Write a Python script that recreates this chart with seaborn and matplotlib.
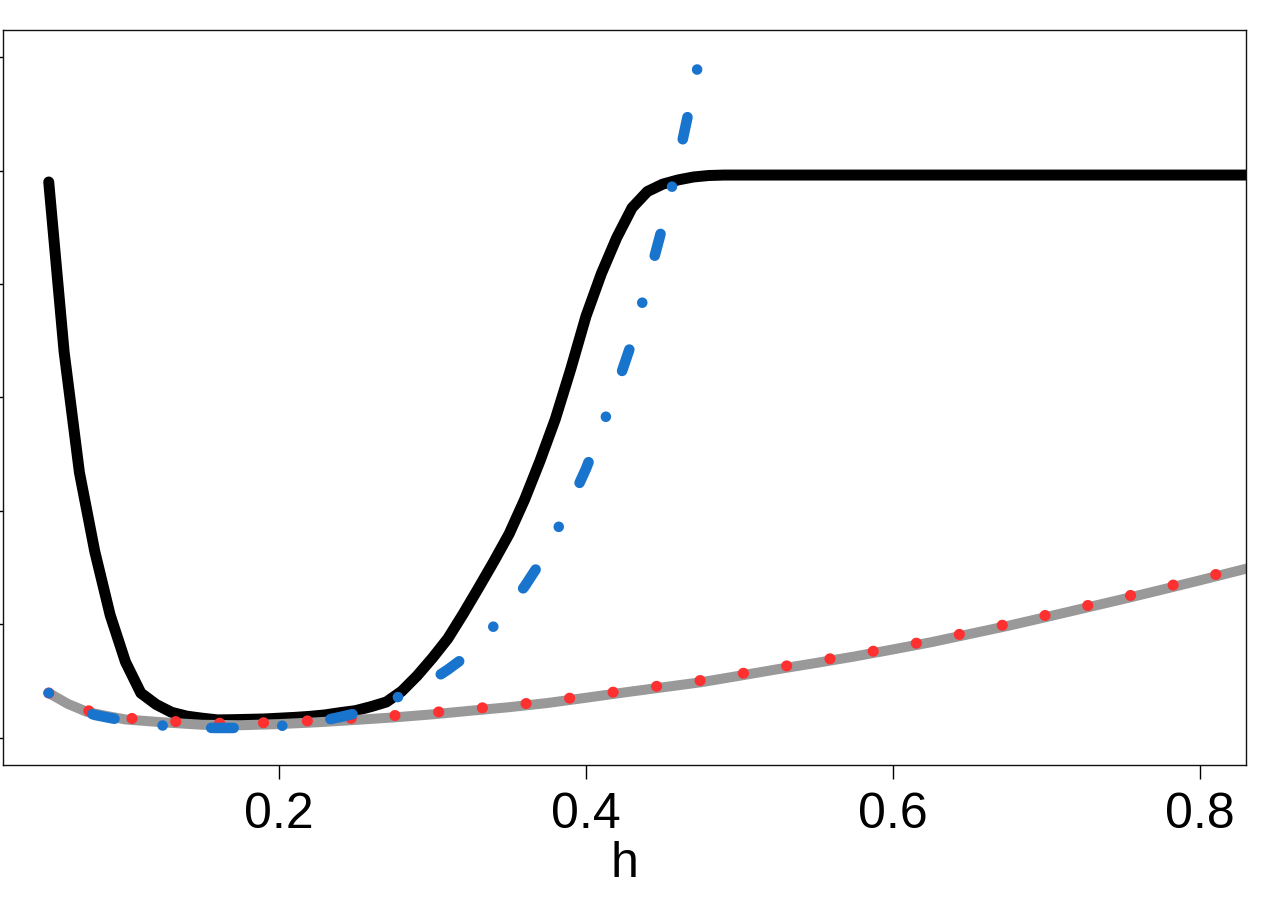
import matplotlib
matplotlib.use("Agg")
import matplotlib.pyplot as plt
import seaborn as sns
import pandas as pd

# black solid curve
h_black = [0.05, 0.06, 0.07, 0.08, 0.09, 0.10, 0.11, 0.12, 0.13, 0.14,
           0.15, 0.16, 0.17, 0.18, 0.19, 0.20, 0.21, 0.22, 0.23, 0.24,
           0.25, 0.26, 0.27, 0.28, 0.29, 0.30, 0.31, 0.32, 0.33, 0.34,
           0.35, 0.36, 0.37, 0.38, 0.39, 0.40, 0.41, 0.42, 0.43, 0.44,
           0.45, 0.46, 0.47, 0.48, 0.49, 0.50, 0.84]
v_black = [4.899, 3.404, 2.339, 1.643, 1.084, 0.670, 0.396, 0.295, 0.226, 0.192,
           0.174, 0.159, 0.161, 0.164, 0.167, 0.174, 0.181, 0.190, 0.203, 0.223,
           0.241, 0.276, 0.317, 0.412, 0.548, 0.705, 0.876, 1.093, 1.322, 1.556,
           1.800, 2.100, 2.440, 2.809, 3.247, 3.716, 4.091, 4.408, 4.671, 4.815,
           4.880, 4.917, 4.943, 4.956, 4.960, 4.960, 4.960]

# blue dot-dash curve
h_blue = [0.05, 0.06, 0.07, 0.08, 0.09, 0.10, 0.11, 0.12, 0.13, 0.14,
          0.15, 0.16, 0.17, 0.18, 0.19, 0.20, 0.21, 0.22, 0.23, 0.24,
          0.25, 0.26, 0.27, 0.28, 0.29, 0.30, 0.31, 0.32, 0.33, 0.34,
          0.35, 0.36, 0.37, 0.38, 0.39, 0.40, 0.41, 0.42, 0.43, 0.44,
          0.45, 0.46, 0.47, 0.48]
v_blue = [0.396, 0.320, 0.247, 0.203, 0.176, 0.152, 0.133, 0.115, 0.102, 0.096,
          0.090, 0.088, 0.088, 0.092, 0.098, 0.104, 0.120, 0.137, 0.156, 0.185,
          0.216, 0.265, 0.318, 0.374, 0.443, 0.513, 0.602, 0.702, 0.841, 0.986,
          1.157, 1.335, 1.542, 1.798, 2.075, 2.372, 2.720, 3.094, 3.493, 4.007,
          4.514, 5.083, 5.716, 6.442]

# grey solid and red dotted curves
h_low = [0.05, 0.0625, 0.075, 0.0875, 0.10, 0.125, 0.15, 0.175, 0.20, 0.225,
         0.25, 0.275, 0.30, 0.325, 0.35, 0.375, 0.40, 0.425, 0.45, 0.475,
         0.50, 0.525, 0.55, 0.575, 0.60, 0.625, 0.65, 0.675, 0.70, 0.725,
         0.75, 0.775, 0.80, 0.825, 0.84]
v_grey = [0.396, 0.300, 0.229, 0.194, 0.163, 0.137, 0.116, 0.112, 0.122, 0.138,
          0.159, 0.181, 0.208, 0.240, 0.271, 0.308, 0.354, 0.401, 0.446, 0.491,
          0.548, 0.606, 0.661, 0.718, 0.780, 0.844, 0.916, 0.988, 1.066, 1.145,
          1.224, 1.306, 1.389, 1.474, 1.525]
v_red = [0.396, 0.312, 0.242, 0.207, 0.176, 0.150, 0.131, 0.128, 0.138, 0.154,
         0.175, 0.197, 0.224, 0.256, 0.287, 0.324, 0.370, 0.417, 0.462, 0.507,
         0.564, 0.622, 0.677, 0.734, 0.796, 0.860, 0.932, 1.004, 1.082, 1.161,
         1.240, 1.322, 1.405, 1.490, 1.541]

x_ticks = [0.2, 0.4, 0.6, 0.8]
x_tick_labels = ["0.2", "0.4", "0.6", "0.8"]
y_ticks = [0, 1, 2, 3, 4, 5, 6]

sns.set_style("white")
plt.rcParams["font.family"] = ["Liberation Sans", "DejaVu Sans"]
plt.rcParams["text.color"] = "black"
plt.rcParams["axes.labelcolor"] = "black"
plt.rcParams["xtick.color"] = "black"
plt.rcParams["ytick.color"] = "black"

fig = plt.figure(figsize=(12.75, 9), dpi=100)
ax = fig.add_axes([0.0021, 0.1498, 0.9752, 0.8171])

df_black = pd.DataFrame({"h": h_black, "v": v_black})
df_blue = pd.DataFrame({"h": h_blue, "v": v_blue})
df_grey = pd.DataFrame({"h": h_low, "v": v_grey})
df_red = pd.DataFrame({"h": h_low, "v": v_red})

sns.lineplot(data=df_black, x="h", y="v", ax=ax, estimator=None, color="black",
             linewidth=7.9, solid_capstyle="round", solid_joinstyle="round")
sns.lineplot(data=df_grey, x="h", y="v", ax=ax, estimator=None, color="#999999",
             linewidth=7.2, solid_capstyle="round", solid_joinstyle="round")
sns.lineplot(data=df_red, x="h", y="v", ax=ax, estimator=None, color="#FF3030",
             linewidth=8.0, linestyle=(0, (0.01, 3.94)), dash_capstyle="round")
sns.lineplot(data=df_blue, x="h", y="v", ax=ax, estimator=None, color="#1874CD",
             linewidth=7.6, linestyle=(0, (0.01, 4.6, 2.14, 4.6)),
             dash_capstyle="round")

ax.set_xlim(0.02, 0.83)
ax.set_ylim(-0.24, 6.24)
ax.set_xticks(x_ticks)
ax.set_xticklabels(x_tick_labels)
ax.set_yticks(y_ticks)
ax.set_yticklabels([])
ax.set_ylabel("")
ax.set_xlabel("h", fontsize=36, labelpad=2, color="black")

ax.tick_params(axis="x", direction="out", length=10, width=1.0, color="black",
               labelcolor="black", labelsize=36, pad=9.5, bottom=True)
ax.tick_params(axis="y", direction="out", length=10, width=1.0, color="black",
               left=True)
for sp in ax.spines.values():
    sp.set_visible(True)
    sp.set_color("#111111")
    sp.set_linewidth(1.0)

fig.savefig("out.png", dpi=100, facecolor="white")
